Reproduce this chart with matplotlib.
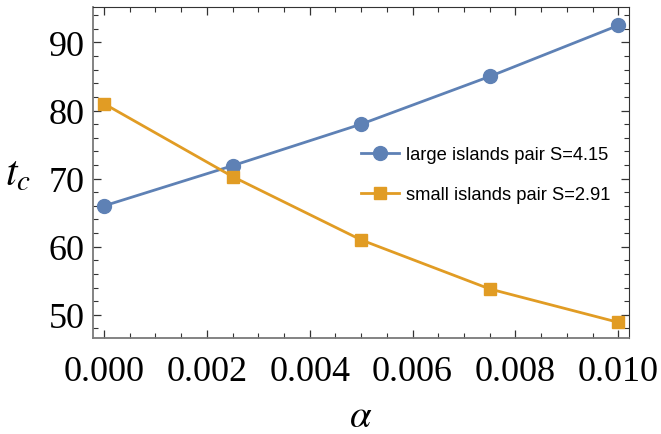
import matplotlib.pyplot as plt
import numpy as np
from matplotlib.ticker import MultipleLocator

plt.rcParams['mathtext.fontset'] = 'stix'

alpha = [0.0, 0.0025, 0.005, 0.0075, 0.01]
tc_large = [66.0, 71.9, 78.0, 85.0, 92.5]
tc_small = [81.0, 70.3, 61.0, 53.8, 48.9]
label_large = 'large islands pair S=4.15'
label_small = 'small islands pair S=2.91'

blue = '#5E81B5'
orange = '#E19C24'

fig = plt.figure(figsize=(6.61, 4.35), dpi=100)
ax = fig.add_axes([93/661, 1 - 339/435, (629-93)/661, (339-8)/435])

ax.plot(alpha, tc_large, '-o', color=blue, lw=2.0, ms=10, label=label_large)
ax.plot(alpha, tc_small, '-s', color=orange, lw=2.0, ms=9, label=label_small)

ax.set_xlim(-0.000214, 0.010208)
ax.set_ylim(46.6, 95.2)

ax.xaxis.set_major_locator(MultipleLocator(0.002))
ax.xaxis.set_minor_locator(MultipleLocator(0.0005))
ax.yaxis.set_major_locator(MultipleLocator(10))
ax.yaxis.set_minor_locator(MultipleLocator(2))
ax.xaxis.set_major_formatter(plt.FuncFormatter(lambda v, p: '%.3f' % v))

ax.tick_params(which='both', direction='in', top=True, right=True, color='#333333')
ax.tick_params(which='major', length=6, width=0.9)
ax.tick_params(which='minor', length=3.5, width=0.8)
for lab in ax.get_xticklabels() + ax.get_yticklabels():
    lab.set_family('Liberation Serif')
    lab.set_fontsize(26)
ax.tick_params(axis='x', pad=12)
ax.tick_params(axis='y', pad=6)

for s in ['left', 'bottom']:
    ax.spines[s].set_color('#7a7a7a')
    ax.spines[s].set_linewidth(1.3)
for s in ['top', 'right']:
    ax.spines[s].set_color('#333333')
    ax.spines[s].set_linewidth(0.8)

ax.set_xlabel(r'$\alpha$', fontsize=28, labelpad=6)
ax.set_ylabel(r'$t_c$', fontsize=30, rotation=0, labelpad=22, va='center')

leg = ax.legend(loc='center left', bbox_to_anchor=(0.469, 0.494), frameon=False,
                prop={'family': 'Liberation Sans', 'size': 13.2}, handlelength=2.1,
                labelspacing=1.25, handletextpad=0.35)

fig.savefig('out.png', dpi=100)
